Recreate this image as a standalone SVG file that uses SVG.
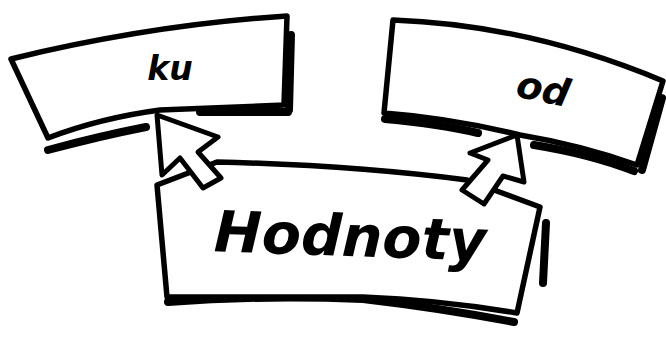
<svg xmlns="http://www.w3.org/2000/svg" width="666" height="337" viewBox="0 0 666 337">
<style>
.box{fill:#fff;stroke:#000;stroke-width:5.5;stroke-linejoin:round;stroke-linecap:round}
.sh{fill:none;stroke:#000;stroke-width:8;stroke-linecap:round;stroke-linejoin:round}
.arr{fill:#fff;stroke:#000;stroke-width:5;stroke-linejoin:round}
.t{font-family:"DejaVu Sans",sans-serif;font-style:oblique;fill:#000;text-anchor:middle}
</style>
<rect width="666" height="337" fill="#fff"/>
<g id="node-ku">
<path class="sh" d="M48,150 Q100,136 146,127 M200,112 L288,112 M291,35 L289,110"/>
<path class="box" d="M11,59 Q150,25 287,16 L284,105 L160,110 Q100,118 48,138 Z"/>
<text class="t" x="170" y="80" font-size="33" font-weight="bold">ku</text>
</g>
<g id="node-od">
<path class="sh" d="M385,119 Q440,124 478,133 M534,145 Q590,154 634,171 M662,98 L642,170"/>
<path class="box" d="M393,20 Q530,25 663,81 L637,165 Q580,145 520,135 Q450,118 384,113 Z"/>
<text class="t" x="543" y="102" font-size="38" font-weight="bold" transform="rotate(12 543 90)">od</text>
</g>
<g id="node-hodnoty">
<path class="sh" d="M168,302 Q260,295 363,299 Q440,308 514,322 M546,223 L543,283"/>
<path class="box" d="M157,185 L217,162 Q350,165 467,180 L540,207 L517,313 Q440,300 363,297 L167,297 Z"/>
<text class="t" x="350" y="256" font-size="57" font-weight="bold" transform="rotate(2 350 240)">Hodnoty</text>
</g>
<g id="connectors">
<path class="arr" d="M157,115 L162,175 L180,158 L203,188 L221,178 L198,152 L218,137 Z"/>
<path class="arr" d="M517,135 L470,153 L488,160 L462,190 L484,204 L503,176 L524,182 Z"/>
</g>
</svg>
